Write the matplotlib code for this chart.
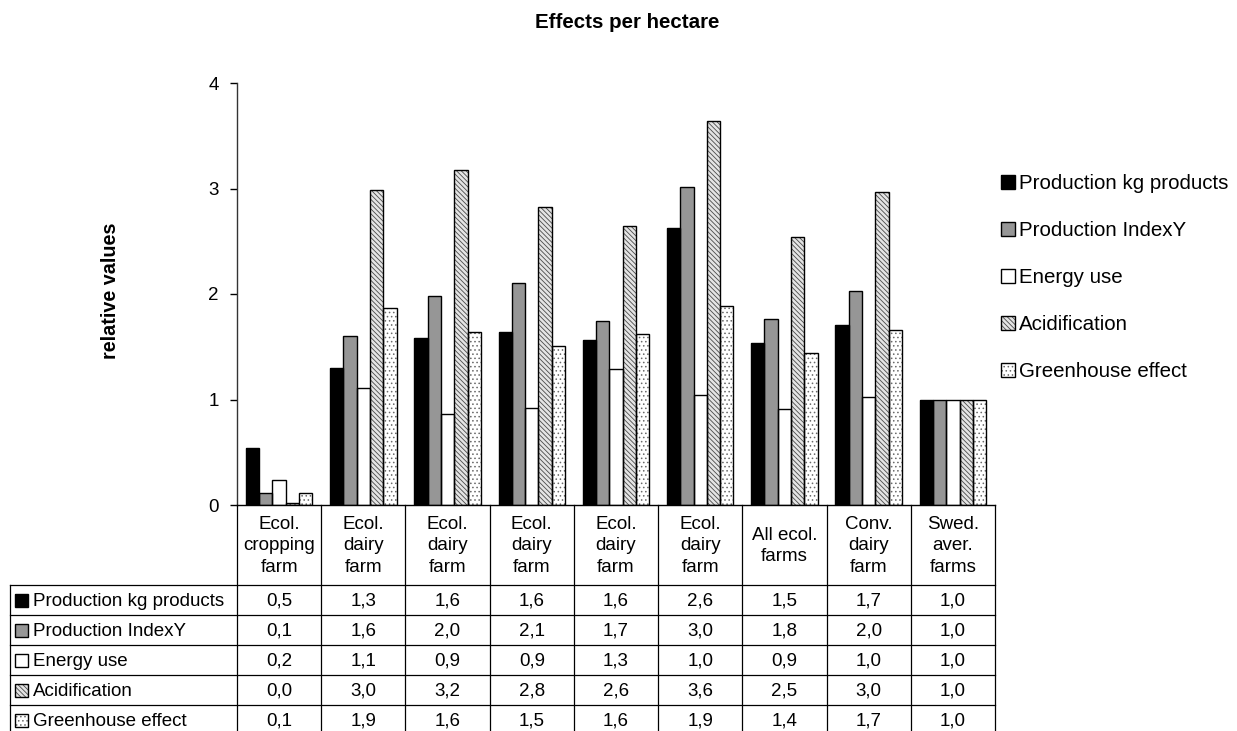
import matplotlib
matplotlib.use("Agg")
import matplotlib.pyplot as plt
import numpy as np
from matplotlib.patches import Rectangle
from matplotlib.legend_handler import HandlerTuple

# Data: relative values per hectare (Swedish average = 1)
categories = ["Ecol.\ncropping\nfarm", "Ecol.\ndairy\nfarm", "Ecol.\ndairy\nfarm",
              "Ecol.\ndairy\nfarm", "Ecol.\ndairy\nfarm", "Ecol.\ndairy\nfarm",
              "All ecol.\nfarms", "Conv.\ndairy\nfarm", "Swed.\naver.\nfarms"]
series_names = ["Production kg products", "Production IndexY", "Energy use",
                "Acidification", "Greenhouse effect"]
prod_kg = [0.54, 1.30, 1.58, 1.64, 1.56, 2.63, 1.54, 1.71, 1.0]
prod_index = [0.11, 1.60, 1.98, 2.10, 1.74, 3.01, 1.76, 2.03, 1.0]
energy_use = [0.24, 1.11, 0.86, 0.92, 1.29, 1.04, 0.91, 1.02, 1.0]
acidification = [0.02, 2.99, 3.18, 2.82, 2.64, 3.64, 2.54, 2.97, 1.0]
greenhouse = [0.11, 1.87, 1.64, 1.51, 1.62, 1.89, 1.44, 1.66, 1.0]
yticks = [0, 1, 2, 3, 4]

series_values = [prod_kg, prod_index, energy_use, acidification, greenhouse]

# fill colour, hatch pattern, hatch colour
styles = [
    ("black", "", "black"),
    ("#969696", "", "#969696"),
    ("white", "", "white"),
    ("#e4e4e4", "\\\\\\\\\\\\\\", "#4a4a4a"),
    ("white", "....", "#6a6a6a"),
]

plt.rcParams["font.family"] = ["Liberation Sans", "DejaVu Sans"]
plt.rcParams["hatch.linewidth"] = 0.6
FS = 13.5       # table and tick text
FS_BIG = 14.8   # title, legend
FS_YLAB = 14.2

W, H = 1237, 731
fig = plt.figure(figsize=(W / 100, H / 100), dpi=100)

ax_left, ax_right, ax_top, ax_bot = 237, 995, 83, 505
ax = fig.add_axes([ax_left / W, 1 - ax_bot / H, (ax_right - ax_left) / W,
                   (ax_bot - ax_top) / H])

x = np.arange(len(categories))
bw = 0.158
handles = []
for i, (vals, (fc, hatch, hc)) in enumerate(zip(series_values, styles)):
    pos = x + (i - 2) * bw
    fill = ax.bar(pos, vals, bw, color=fc, hatch=hatch, edgecolor=hc,
                  linewidth=0, zorder=2)
    outline = ax.bar(pos, vals, bw, fill=False, edgecolor="black",
                     linewidth=1.0, zorder=3)
    handles.append((fill.patches[0], outline.patches[0]))

ax.set_xlim(-0.5, len(categories) - 0.5)
ax.set_ylim(0, 4)
ax.set_yticks(yticks)
ax.set_xticks([])
ax.tick_params(axis="y", labelsize=FS, length=5, width=1, pad=8)
for s in ["top", "right"]:
    ax.spines[s].set_visible(False)
ax.spines["left"].set_linewidth(1)
ax.spines["bottom"].set_linewidth(1)
ax.spines["left"].set_color("#333333")

fig.text(627 / W, 1 - 22 / H, "Effects per hectare", ha="center", va="center",
         fontsize=FS_BIG, fontweight="bold")
fig.text(110 / W, 1 - 291 / H, "relative values", ha="center", va="center",
         rotation=90, fontsize=FS_YLAB, fontweight="bold")

leg = fig.legend(handles, series_names, loc="upper left",
                 bbox_to_anchor=(1001 / W, 1 - 174 / H), frameon=False,
                 fontsize=FS_BIG, handler_map={tuple: HandlerTuple(ndivide=1)},
                 handlelength=0.68, handleheight=0.68, handletextpad=0.2,
                 labelspacing=1.36, borderpad=0, borderaxespad=0)

# Data table under the chart
tax = fig.add_axes([ax_left / W, 0, (ax_right - ax_left) / W, (H - ax_bot) / H])
tax.set_xlim(-0.5, len(categories) - 0.5)
tax.set_ylim(H - ax_bot, 0)
tax.axis("off")

px = (ax_right - ax_left) / len(categories)
x_lab = -0.5 - (ax_left - 10) / px
header_h, row_h = 80, 30
lw = 0.9
n_rows = len(series_names)
y_end = header_h + row_h * n_rows

for k in range(len(categories) + 1):
    tax.plot([k - 0.5, k - 0.5], [0, y_end], color="black", lw=lw, clip_on=False)
tax.plot([x_lab, x_lab], [header_h, y_end], color="black", lw=lw, clip_on=False)
for r in range(n_rows + 1):
    y = header_h + r * row_h
    tax.plot([x_lab, len(categories) - 0.5], [y, y], color="black", lw=lw,
             clip_on=False)

for j, cat in enumerate(categories):
    tax.text(j, header_h / 2 + 1, cat, ha="center", va="center", fontsize=FS,
             linespacing=1.35, clip_on=False)

for r, (name, vals, (fc, hatch, hc)) in enumerate(zip(series_names, series_values, styles)):
    yc = header_h + r * row_h + row_h / 2
    mx = -0.5 - (ax_left - 15) / px
    mw = 13 / px
    tax.add_patch(Rectangle((mx, yc - 6), mw, 13, facecolor=fc, hatch=hatch,
                            edgecolor=hc, linewidth=0, clip_on=False))
    tax.add_patch(Rectangle((mx, yc - 6), mw, 13, fill=False, edgecolor="black",
                            linewidth=1, clip_on=False))
    tax.text(-0.5 - (ax_left - 33) / px, yc + 1, name, ha="left", va="center",
             fontsize=FS, clip_on=False)
    for j, v in enumerate(vals):
        tax.text(j, yc + 1, f"{v:.1f}".replace(".", ","), ha="center",
                 va="center", fontsize=FS, clip_on=False)

fig.savefig("out.png", dpi=100)
